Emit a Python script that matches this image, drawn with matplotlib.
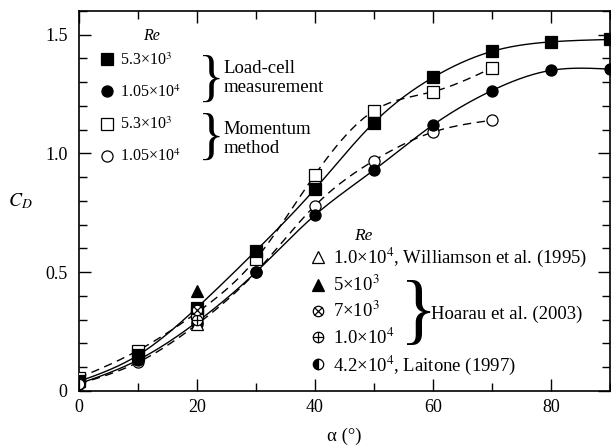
import numpy as np
import matplotlib.pyplot as plt
from matplotlib.lines import Line2D
from matplotlib.ticker import MultipleLocator

plt.rcParams['font.family'] = ['Liberation Serif', 'DejaVu Serif']
plt.rcParams['mathtext.fontset'] = 'stix'

# load-cell measurement (solid lines)
alpha_lc = [0, 10, 20, 30, 40, 50, 60, 70, 80, 90]
cd_lc_53 = [0.04, 0.15, 0.35, 0.59, 0.85, 1.13, 1.32, 1.43, 1.47, 1.48]
cd_lc_105 = [0.03, 0.13, 0.29, 0.50, 0.74, 0.93, 1.12, 1.265, 1.35, 1.355]

# momentum method (dashed lines)
alpha_mm = [0, 10, 20, 30, 40, 50, 60, 70]
cd_mm_53 = [0.055, 0.17, 0.33, 0.555, 0.91, 1.18, 1.26, 1.36]
cd_mm_105 = [0.03, 0.12, 0.28, 0.50, 0.78, 0.97, 1.09, 1.14]

# literature values
alpha_will, cd_will = [20], [0.28]
alpha_h5, cd_h5 = [20], [0.42]
alpha_h7, cd_h7 = [20], [0.34]
alpha_h10, cd_h10 = [20], [0.30]
alpha_lait, cd_lait = [0], [0.03]


def natural_spline(x, y, n=300):
    """smooth curve through the points (natural cubic spline)"""
    x = np.asarray(x, float)
    y = np.asarray(y, float)
    m = len(x)
    h = np.diff(x)
    A = np.zeros((m, m))
    b = np.zeros(m)
    A[0, 0] = A[-1, -1] = 1
    for i in range(1, m - 1):
        A[i, i - 1] = h[i - 1]
        A[i, i] = 2 * (h[i - 1] + h[i])
        A[i, i + 1] = h[i]
        b[i] = 3 * ((y[i + 1] - y[i]) / h[i] - (y[i] - y[i - 1]) / h[i - 1])
    c = np.linalg.solve(A, b)
    bb = (y[1:] - y[:-1]) / h - h * (2 * c[:-1] + c[1:]) / 3
    d = (c[1:] - c[:-1]) / (3 * h)
    xs = np.linspace(x[0], x[-1], n)
    k = np.clip(np.searchsorted(x, xs) - 1, 0, m - 2)
    t = xs - x[k]
    ys = y[k] + bb[k] * t + c[k] * t ** 2 + d[k] * t ** 3
    return xs, ys


fig = plt.figure(figsize=(6.11, 4.47), dpi=100)
ax = fig.add_axes([0.1288, 0.1253, 0.8696, 0.8501])

ms = 8
mew = 0.9
lw = 1.0

for a, c, ls in [(alpha_mm, cd_mm_53, (0, (6, 4))), (alpha_mm, cd_mm_105, (0, (6, 4))),
                 (alpha_lc, cd_lc_53, '-'), (alpha_lc, cd_lc_105, '-')]:
    xs, ys = natural_spline(a, c)
    ax.plot(xs, ys, color='k', lw=lw, ls=ls, zorder=2)

ax.plot(alpha_mm, cd_mm_105, 'o', ms=ms, mfc='white', mec='k', mew=mew, zorder=3)
ax.plot(alpha_lc, cd_lc_105, 'o', ms=ms, mfc='k', mec='k', mew=mew, zorder=3)
ax.plot(alpha_mm, cd_mm_53, 's', ms=ms, mfc='white', mec='k', mew=mew, zorder=4)
ax.plot(alpha_lc, cd_lc_53, 's', ms=ms, mfc='k', mec='k', mew=mew, zorder=4)

ax.plot(alpha_will, cd_will, '^', ms=ms, mfc='white', mec='k', mew=mew, zorder=5)
ax.plot(alpha_h10, cd_h10, 'o', ms=7.5, mfc='white', mec='k', mew=mew, zorder=5)
ax.plot(alpha_h10, cd_h10, '+', ms=7.5, mec='k', mew=mew, zorder=5)
ax.plot(alpha_h7, cd_h7, 'o', ms=7.5, mfc='white', mec='k', mew=mew, zorder=6)
ax.plot(alpha_h7, cd_h7, 'x', ms=5.3, mec='k', mew=mew, zorder=6)
ax.plot(alpha_h5, cd_h5, '^', ms=ms, mfc='k', mec='k', mew=mew, zorder=6)
ax.plot(alpha_lait, cd_lait, 'o', ms=7.5, mfc='k', mec='k', mew=mew,
        fillstyle='left', markerfacecoloralt='white', zorder=6)

ax.set_xlim(0, 90)
ax.set_ylim(0, 1.6)
ax.set_xticks([0, 20, 40, 60, 80])
ax.xaxis.set_minor_locator(MultipleLocator(10))
ax.set_yticks([0, 0.5, 1.0, 1.5])
ax.set_yticklabels(['0', '0.5', '1.0', '1.5'])
ax.yaxis.set_minor_locator(MultipleLocator(0.1))
ax.tick_params(which='both', direction='in', top=True, right=True, width=1.0, labelsize=13)
ax.tick_params(which='major', length=8.4)
ax.tick_params(which='minor', length=5.5)
ax.tick_params(axis='y', pad=8)
ax.tick_params(axis='x', pad=6)
for sp in ax.spines.values():
    sp.set_linewidth(1.2)

ax.set_xlabel('α (°)', fontsize=13.5)
ax.xaxis.label.set_va('center')
ax.xaxis.set_label_coords(0.5, -0.12)
ax.set_ylabel('$C_D$', fontsize=14, rotation=0, va='center', ha='center')
ax.yaxis.set_label_coords(-0.11, 0.5)

# upper legend: this study
h_lc53 = Line2D([], [], marker='s', ls='none', ms=ms, mfc='k', mec='k', mew=mew)
h_lc105 = Line2D([], [], marker='o', ls='none', ms=ms, mfc='k', mec='k', mew=mew)
h_mm53 = Line2D([], [], marker='s', ls='none', ms=ms, mfc='white', mec='k', mew=mew)
h_mm105 = Line2D([], [], marker='o', ls='none', ms=ms, mfc='white', mec='k', mew=mew)
leg1 = ax.legend([h_lc53, h_lc105, h_mm53, h_mm105],
                 ['5.3×10$^3$', '1.05×10$^4$', '5.3×10$^3$', '1.05×10$^4$'],
                 loc='upper left', bbox_to_anchor=(0.038, 0.892), frameon=False,
                 fontsize=11.5, handlelength=1.0, handletextpad=0.31, labelspacing=0.98,
                 borderpad=0, borderaxespad=0)
ax.add_artist(leg1)
ax.text(0.137, 0.934, 'Re', style='italic', fontsize=11.5, ha='center', va='center',
        transform=ax.transAxes)
ax.text(0.249, 0.814, '}', fontsize=40, ha='center', va='center', transform=ax.transAxes)
ax.text(0.272, 0.824, 'Load-cell\nmeasurement', fontsize=13.5, ha='left', va='center',
        linespacing=1.15, transform=ax.transAxes)
ax.text(0.249, 0.662, '}', fontsize=40, ha='center', va='center', transform=ax.transAxes)
ax.text(0.272, 0.662, 'Momentum\nmethod', fontsize=13.5, ha='left', va='center',
        linespacing=1.15, transform=ax.transAxes)

# lower legend: other studies
h_will = Line2D([], [], marker='^', ls='none', ms=ms, mfc='white', mec='k', mew=mew)
h_h5 = Line2D([], [], marker='^', ls='none', ms=ms, mfc='k', mec='k', mew=mew)
h_h7 = (Line2D([], [], marker='o', ls='none', ms=7.5, mfc='white', mec='k', mew=mew),
        Line2D([], [], marker='x', ls='none', ms=5.3, mec='k', mew=mew))
h_h10 = (Line2D([], [], marker='o', ls='none', ms=7.5, mfc='white', mec='k', mew=mew),
         Line2D([], [], marker='+', ls='none', ms=7.5, mec='k', mew=mew))
h_lait = Line2D([], [], marker='o', ls='none', ms=7.5, mfc='k', mec='k', mew=mew,
                fillstyle='left', markerfacecoloralt='white')
leg2 = ax.legend([h_will, h_h5, h_h7, h_h10, h_lait],
                 ['1.0×10$^4$, Williamson et al. (1995)', '5×10$^3$', '7×10$^3$',
                  '1.0×10$^4$', '4.2×10$^4$, Laitone (1997)'],
                 loc='upper left', bbox_to_anchor=(0.4327, 0.382), frameon=False,
                 fontsize=13.5, handlelength=1.0, handletextpad=0.30, labelspacing=0.31,
                 borderpad=0, borderaxespad=0)
ax.text(0.535, 0.407, 'Re', style='italic', fontsize=12.5, ha='center', va='center',
        transform=ax.transAxes)
ax.text(0.640, 0.197, '}', fontsize=56, ha='center', va='center', transform=ax.transAxes)
ax.text(0.664, 0.203, 'Hoarau et al. (2003)', fontsize=13.5, ha='left', va='center',
        transform=ax.transAxes)

fig.savefig('out.png', dpi=100)
